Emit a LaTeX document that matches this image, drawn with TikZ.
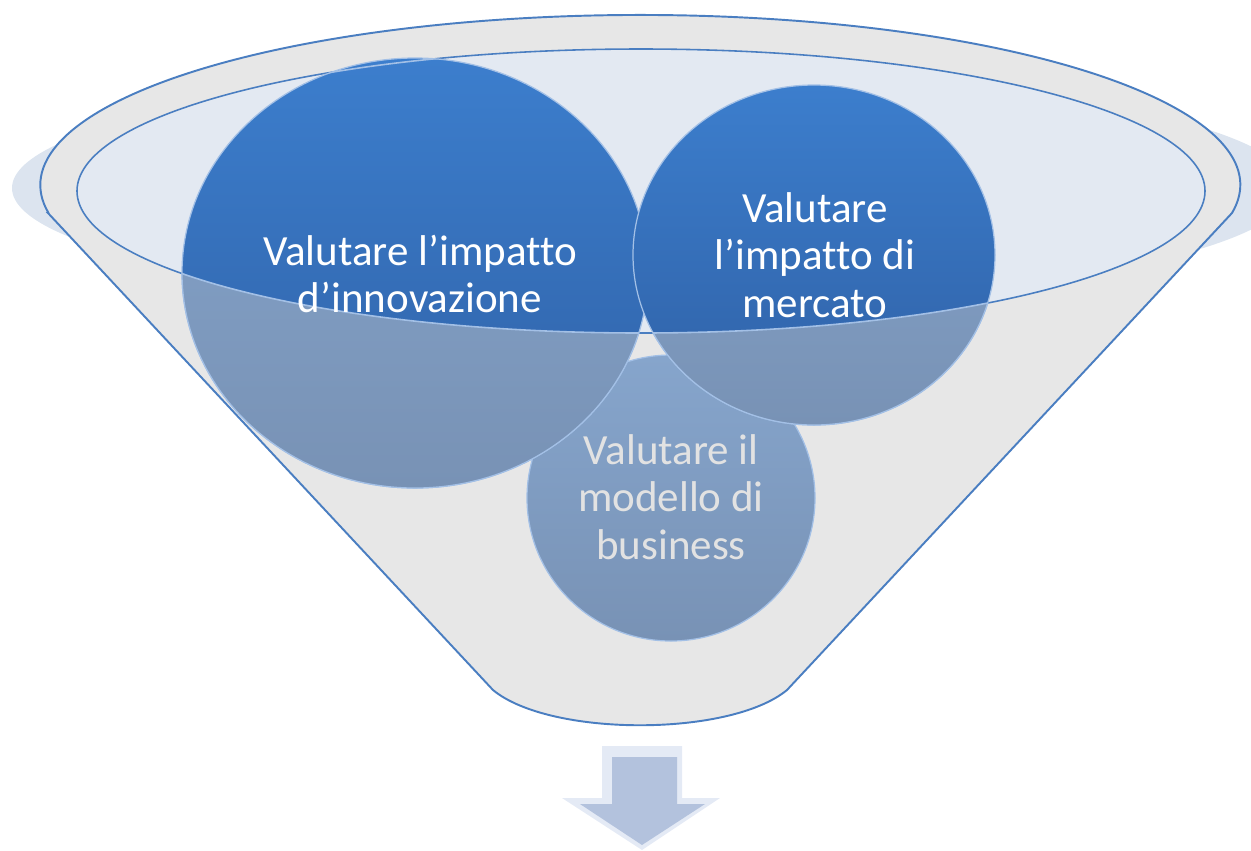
\documentclass[tikz,border=0pt]{standalone}
\usepackage{fontspec}
\setmainfont[Ligatures=NoCommon]{Carlito}
\definecolor{funnelline}{HTML}{4A7EC1}
\definecolor{funnelgray}{HTML}{E7E7E7}
\definecolor{mouthblue}{HTML}{E3E9F2}
\definecolor{shadowblue}{HTML}{DCE4EF}
\definecolor{balltop}{HTML}{3C7ECD}
\definecolor{ballbot}{HTML}{2F60A5}
\definecolor{mutedtop}{HTML}{86A5CC}
\definecolor{mutedbot}{HTML}{7892B5}
\definecolor{ballrim}{HTML}{A3C0E6}
\definecolor{bizgray}{HTML}{E2E2E2}
\definecolor{arrowfill}{HTML}{B3C2DD}
\definecolor{arrowedge}{HTML}{E4EAF5}
\begin{document}
\begin{tikzpicture}[x=0.02cm,y=-0.02cm,
  bright/.style={top color=balltop,bottom color=ballbot,draw=ballrim,line width=0.7pt},
  muted/.style={top color=mutedtop,bottom color=mutedbot,draw=ballrim,line width=0.7pt},
  balltext/.style={font=\fontsize{24.5}{27.2}\selectfont,text=white,align=center}]
\useasboundingbox (0,0) rectangle (1251,850);
\fill[shadowblue] (652,188) ellipse [x radius=640, y radius=118];
\draw[funnelline,fill=funnelgray,line width=1.1pt] (48,213) -- (493,690)
  .. controls (550,737) and (730,737) .. (787,690) -- (1232,213)
  arc [start angle=9.5, end angle=-189.5, x radius=600, y radius=170] -- cycle;
\draw[funnelline,fill=mouthblue,line width=0.9pt] (641,191) ellipse [x radius=564, y radius=142];
\path[muted] (671,498) ellipse [x radius=144, y radius=143];
\path[bright] (415,273) ellipse [x radius=233, y radius=215];
\path[bright] (814,255) ellipse [x radius=181, y radius=170];
\begin{scope}
\clip (77,191) arc [start angle=180, end angle=0, x radius=564, y radius=142]
  -- (1251,191) -- (1251,850) -- (0,850) -- (0,191) -- cycle;
\path[muted] (415,273) ellipse [x radius=233, y radius=215];
\path[muted] (814,255) ellipse [x radius=181, y radius=170];
\end{scope}
\begin{scope}
\clip (415,273) ellipse [x radius=233, y radius=215] (814,255) ellipse [x radius=181, y radius=170];
\draw[ballrim,line width=0.9pt] (641,191) ellipse [x radius=564, y radius=142];
\end{scope}
\node[balltext] (innov) at (420,274) {Valutare l’impatto\\d’innovazione};
\node[balltext] (mercato) at (815,255) {Valutare\\l’impatto di\\mercato};
\node[balltext,text=bizgray] (business) at (671,497) {Valutare il\\modello di\\business};
\fill[arrowedge] (602,746) -- (682,746) -- (682,798) -- (720,798) -- (642,850)
  -- (562,798) -- (602,798) -- cycle;
\fill[arrowfill] (612,757) -- (677,757) -- (677,804) -- (705,804) -- (642,845)
  -- (580,804) -- (612,804) -- cycle;
\end{tikzpicture}
\end{document}
